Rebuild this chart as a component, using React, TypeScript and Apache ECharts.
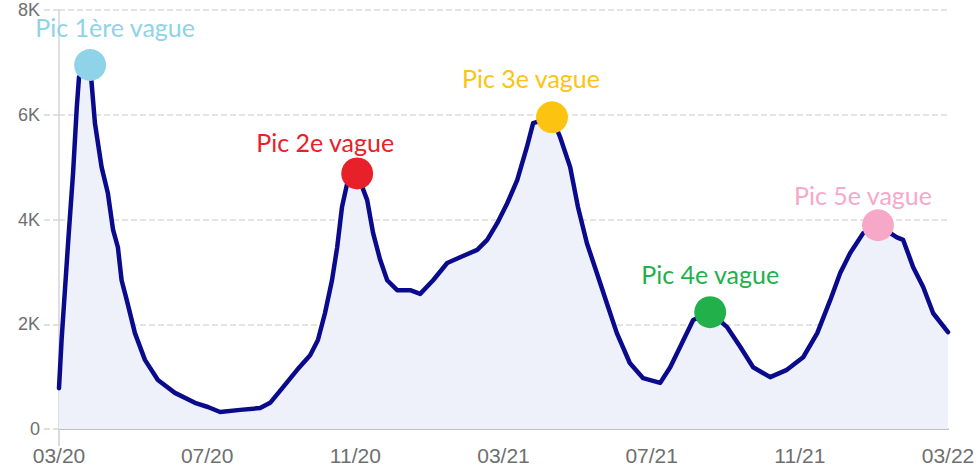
import React, { useEffect, useRef } from "react";
import * as echarts from "echarts";

// Months elapsed since March 2020 (x) and daily cases (y)
const months = [
  0, 0.07, 0.25, 0.38, 0.48, 0.54, 0.84, 0.97, 1.15, 1.32, 1.46, 1.59, 1.69, 1.83,
  2.05, 2.32, 2.67, 3.13, 3.67, 4.02, 4.35, 4.89, 5.43, 5.7, 6.05, 6.43, 6.78, 6.99,
  7.18, 7.37, 7.51, 7.64, 7.78, 8.05, 8.32, 8.48, 8.67, 8.86, 9.13, 9.48, 9.75, 10.1,
  10.48, 10.83, 11.29, 11.56, 11.83, 12.1, 12.37, 12.63, 12.8, 13.31, 13.53, 13.8,
  14.01, 14.25, 14.52, 14.79, 15.06, 15.41, 15.77, 16.23, 16.5, 16.77, 17.12, 17.58,
  18.03, 18.39, 18.74, 19.2, 19.65, 20.09, 20.47, 20.82, 21.09, 21.36, 21.71, 22.11,
  22.62, 22.79, 23.06, 23.33, 23.6, 24.0,
];
const cases = [
  780, 1700, 3600, 4890, 6140, 6720, 6950, 5840, 5000, 4500, 3800, 3470, 2840, 2460,
  1830, 1320, 935, 690, 500, 420, 325, 365, 400, 500, 800, 1130, 1410, 1700,
  2210, 2840, 3470, 4240, 4690, 4880, 4370, 3740, 3230, 2840, 2650, 2650, 2580, 2840,
  3170, 3280, 3420, 3610, 3930, 4310, 4750, 5380, 5840, 5950, 5570, 5000,
  4240, 3550, 2980, 2400, 1830, 1260, 970, 880, 1180, 1570, 2080, 2230,
  1950, 1570, 1180, 990, 1130, 1370, 1830, 2460, 2980, 3360, 3740, 3890,
  3660, 3610, 3090, 2710, 2210, 1850,
];
const tickLabels = ["03/20", "07/20", "11/20", "03/21", "07/21", "11/21", "03/22"];
const yTickLabels = ["0", "2K", "4K", "6K", "8K"];

const peakIndices = [6, 33, 51, 65, 77];
const peakLabels = ["Pic 1ère vague", "Pic 2e vague", "Pic 3e vague", "Pic 4e vague", "Pic 5e vague"];
const peakColors = ["#8fd3e8", "#e8202a", "#fcc410", "#22b04b", "#f7a8c8"];
const peakLabelOffsets = [
  [25, -38],
  [-32, -31],
  [-21, -39],
  [0, -38],
  [-15, -30],
];

export default function App() {
  const ref = useRef<HTMLDivElement>(null);
  useEffect(() => {
    if (!ref.current) return;
    const chart = echarts.init(ref.current, null, { renderer: "svg" });
    const lineData = months.map((m, i) => [m, cases[i]]);
    const peakData = peakIndices.map((idx, k) => ({
      value: [months[idx], cases[idx]],
      itemStyle: { color: peakColors[k], opacity: 1 },
      label: {
        show: true,
        formatter: peakLabels[k],
        color: peakColors[k],
        position: "inside",
        offset: peakLabelOffsets[k],
      },
    }));
    chart.setOption({
      animation: false,
      backgroundColor: "#ffffff",
      grid: { left: 59, right: 32, top: 10, bottom: 44, containLabel: false },
      xAxis: {
        type: "value",
        min: 0,
        max: 24,
        interval: 4,
        axisLine: { show: true, lineStyle: { color: "#bfbfbf", width: 2 } },
        axisTick: { show: true, customValues: [0], length: 17, lineStyle: { color: "#cfcfcf", width: 1.5 } },
        splitLine: { show: false },
        axisLabel: {
          color: "#6f6f6f",
          fontSize: 21,
          fontFamily: "Liberation Sans, Arial, sans-serif",
          margin: 16,
          formatter: (v: number) => tickLabels[Math.round(v / 4)] ?? "",
        },
      },
      yAxis: {
        type: "value",
        min: 0,
        max: 8000,
        interval: 2000,
        axisLine: { show: true, lineStyle: { color: "#d4d4d4", width: 1.5 } },
        axisTick: { show: true, length: 17, lineStyle: { color: "#d8d8d8", type: "dashed", width: 1.5 } },
        splitLine: { show: true, lineStyle: { color: "#dcdcdc", type: "dashed", width: 1.5 } },
        axisLabel: {
          color: "#6f6f6f",
          fontSize: 18,
          fontFamily: "Liberation Sans, Arial, sans-serif",
          margin: 19,
          formatter: (v: number) => yTickLabels[Math.round(v / 2000)] ?? "",
        },
      },
      series: [
        {
          type: "line",
          data: lineData,
          showSymbol: false,
          smooth: false,
          lineStyle: { color: "#0a0a8c", width: 4.5, join: "round", cap: "round" },
          areaStyle: { color: "#eef0fa", opacity: 1 },
          z: 2,
        },
        {
          type: "scatter",
          data: peakData,
          symbol: "circle",
          symbolSize: 32,
          z: 5,
          itemStyle: { opacity: 1 },
          label: {
            fontFamily: "Lato, Open Sans, sans-serif",
            fontSize: 25,
          },
        },
      ],
    });
    return () => chart.dispose();
  }, []);
  return (
    <div
      ref={ref}
      style={{ width: 980, height: 473, position: "absolute", left: 0, top: 0 }}
    />
  );
}
